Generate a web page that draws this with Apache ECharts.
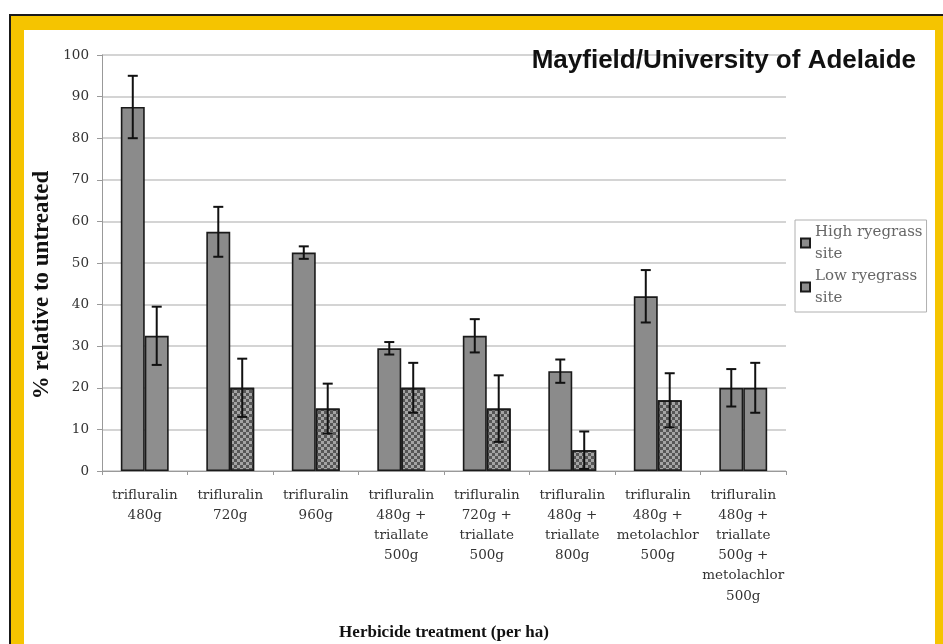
<!DOCTYPE html>
<html>
<head>
<meta charset="utf-8">
<script src="https://cdn.jsdelivr.net/npm/echarts@6/dist/echarts.min.js"></script>
<style>
  html, body { margin: 0; padding: 0; background: #ffffff; overflow: hidden; }
  #frame { position: absolute; left: 9px; top: 14px; width: 934px; height: 630px;
           background: #f5c400; border-left: 2px solid #1a1a1a; border-top: 2px solid #1a1a1a; box-sizing: border-box; }
  #inner { position: absolute; left: 24px; top: 30px; width: 911px; height: 614px; background: #ffffff; }
  #chart { position: absolute; left: 0; top: 0; width: 943px; height: 644px; }
</style>
</head>
<body>
<div id="frame"></div>
<div id="inner"></div>
<div id="chart"></div>
<script>
const categories = [
  "trifluralin\n480g",
  "trifluralin\n720g",
  "trifluralin\n960g",
  "trifluralin\n480g +\ntriallate\n500g",
  "trifluralin\n720g +\ntriallate\n500g",
  "trifluralin\n480g +\ntriallate\n800g",
  "trifluralin\n480g +\nmetolachlor\n500g",
  "trifluralin\n480g +\ntriallate\n500g +\nmetolachlor\n500g"
];
const highValues = [87.5, 57.5, 52.5, 29.5, 32.5, 24, 42, 20];
const highErrors = [7.5, 6, 1.5, 1.5, 4, 2.8, 6.3, 4.5];
const lowValues  = [32.5, 20, 15, 20, 15, 5, 17, 20];
const lowErrors  = [7, 7, 6, 6, 8, 4.5, 6.5, 6];
const lowPatterned = [false, true, true, true, true, true, true, false];
const yTicks = [0, 10, 20, 30, 40, 50, 60, 70, 80, 90, 100];

const chart = echarts.init(document.getElementById('chart'), null, { renderer: 'canvas', width: 943, height: 644 });

const checker = {
  symbol: 'rect', symbolSize: 1, color: 'rgba(60,60,60,0.75)',
  dashArrayX: [[3, 3], [0, 3, 3, 0]], dashArrayY: [3, 0], rotation: 0
};

const barCatGap = 0.44;
const barFrac = (1 - barCatGap) / 2;

function errRender(offsetSign, errs) {
  return function (params, api) {
    const i = api.value(0), v = api.value(1), e = errs[i];
    const w = api.size([1, 0])[0];
    const x = api.coord([i, v])[0] + offsetSign * w * barFrac / 2;
    const top = api.coord([i, v + e])[1];
    const bot = api.coord([i, Math.max(v - e, 0)])[1];
    const cap = 5;
    const st = { stroke: '#111', lineWidth: 2 };
    return {
      type: 'group',
      children: [
        { type: 'line', shape: { x1: x, y1: top, x2: x, y2: bot }, style: st },
        { type: 'line', shape: { x1: x - cap, y1: top, x2: x + cap, y2: top }, style: st },
        { type: 'line', shape: { x1: x - cap, y1: bot, x2: x + cap, y2: bot }, style: st }
      ]
    };
  };
}

const serif = "'Liberation Serif', 'Times New Roman', serif";
const tickFont = "'DejaVu Serif', serif";

chart.setOption({
  backgroundColor: 'transparent',
  animation: false,
  title: {
    text: 'Mayfield/University of Adelaide',
    right: 22, top: 43,
    textStyle: { fontFamily: "'Liberation Sans', Arial, sans-serif", fontWeight: 'bold', fontSize: 26, color: '#111' }
  },
  graphic: [
    {
      type: 'text', x: 42, y: 285, rotation: Math.PI / 2,
      style: { text: '% relative to untreated', fontFamily: serif, fontWeight: 'bold', fontSize: 23,
               fill: '#111', align: 'center', verticalAlign: 'middle' }
    }
  ],
  legend: {
    orient: 'vertical',
    left: 795, top: 220,
    data: [
      { name: 'High ryegrass site', icon: 'rect' },
      { name: 'Low ryegrass site', icon: 'rect' }
    ],
    formatter: function (n) { return n.replace(' site', '\nsite'); },
    itemWidth: 9, itemHeight: 9, itemGap: 0,
    padding: [1, 4, 3, 5],
    borderColor: '#b0b0b0', borderWidth: 1,
    textStyle: { fontFamily: tickFont, fontSize: 15, color: '#666', lineHeight: 22 }
  },
  grid: { left: 102, top: 55, width: 684, height: 416, containLabel: false, outerBoundsMode: 'none' },
  xAxis: {
    type: 'category',
    data: categories,
    name: 'Herbicide treatment (per ha)',
    nameLocation: 'middle', nameGap: 153,
    nameTextStyle: { fontFamily: serif, fontWeight: 'bold', fontSize: 17, color: '#111' },
    axisLine: { lineStyle: { color: '#999', width: 1 } },
    axisTick: { show: true, length: 4, lineStyle: { color: '#999' } },
    axisLabel: { interval: 0, margin: 14, fontFamily: tickFont, fontSize: 13.5, color: '#333', lineHeight: 20.2 }
  },
  yAxis: {
    type: 'value', min: 0, max: 100, interval: 10,
    axisLine: { show: true, lineStyle: { color: '#999', width: 1 } },
    axisTick: { show: true, length: 5, lineStyle: { color: '#999' } },
    axisLabel: { margin: 13, fontFamily: tickFont, fontSize: 13.5, color: '#333',
                 formatter: function (v) { return yTicks.indexOf(v) >= 0 ? String(v) : ''; } },
    splitLine: { lineStyle: { color: '#c6c6c6', width: 1.5 } }
  },
  series: [
    {
      name: 'High ryegrass site', type: 'bar',
      data: highValues,
      barGap: '0%', barCategoryGap: (barCatGap * 100) + '%',
      itemStyle: { color: '#8b8b8b', borderColor: '#1a1a1a', borderWidth: 1.6 },
      z: 2
    },
    {
      name: 'Low ryegrass site', type: 'bar',
      data: lowValues.map(function (v, i) {
        return lowPatterned[i]
          ? { value: v, itemStyle: { color: '#a4a4a4', decal: checker } }
          : { value: v };
      }),
      barGap: '0%', barCategoryGap: (barCatGap * 100) + '%',
      itemStyle: { color: '#8e8e8e', borderColor: '#1a1a1a', borderWidth: 1.6 },
      z: 2
    },
    {
      name: 'errHigh', type: 'custom',
      data: highValues.map(function (v, i) { return [i, v]; }),
      renderItem: errRender(-1, highErrors), z: 5, silent: true
    },
    {
      name: 'errLow', type: 'custom',
      data: lowValues.map(function (v, i) { return [i, v]; }),
      renderItem: errRender(1, lowErrors), z: 5, silent: true
    }
  ]
});
</script>
</body>
</html>
